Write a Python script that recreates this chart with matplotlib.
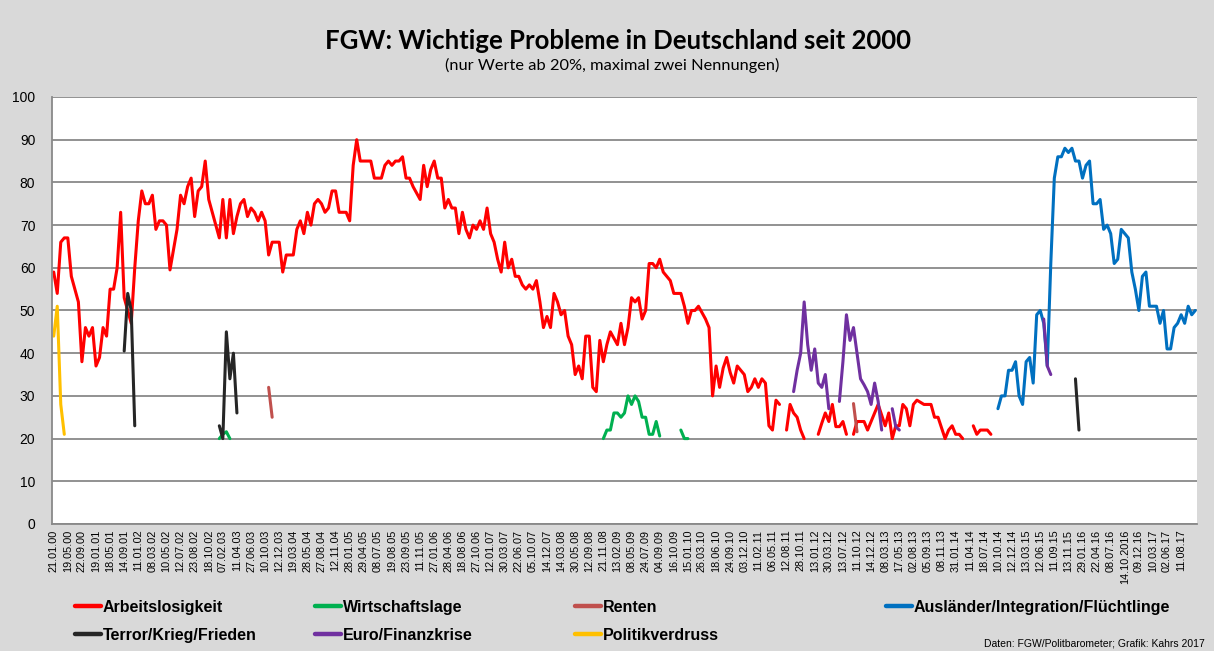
import numpy as np
import matplotlib.pyplot as plt
from matplotlib.lines import Line2D

# Politbarometer survey dates: every 4th survey is labelled on the axis
n_surveys = 325
date_labels = ['21.01.00', '19.05.00', '22.09.00', '19.01.01', '18.05.01', '14.09.01', '11.01.02',
               '08.03.02', '10.05.02', '12.07.02', '23.08.02', '18.10.02', '07.02.03', '11.04.03',
               '27.06.03', '10.10.03', '12.12.03', '19.03.04', '28.05.04', '27.08.04', '12.11.04',
               '28.01.05', '29.04.05', '08.07.05', '19.08.05', '23.09.05', '11.11.05', '27.01.06',
               '28.04.06', '18.08.06', '27.10.06', '12.01.07', '30.03.07', '22.06.07', '05.10.07',
               '14.12.07', '14.03.08', '30.05.08', '12.09.08', '21.11.08', '13.02.09', '08.05.09',
               '24.07.09', '04.09.09', '16.10.09', '15.01.10', '26.03.10', '18.06.10', '24.09.10',
               '03.12.10', '11.02.11', '06.05.11', '12.08.11', '28.10.11', '13.01.12', '30.03.12',
               '13.07.12', '11.10.12', '14.12.12', '08.03.13', '17.05.13', '02.08.13', '05.09.13',
               '08.11.13', '31.01.14', '11.04.14', '18.07.14', '10.10.14', '12.12.14', '13.03.15',
               '12.06.15', '11.09.15', '13.11.15', '29.01.16', '22.04.16', '08.07.16', '14.10.2016',
               '09.12.16', '10.03.17', '02.06.17', '11.08.17']

nan = np.nan

# survey index / share in percent (nan = below 20 %, line interrupted)
arbeit_idx = [0, 1, 2, 3, 4, 5, 6, 7, 8, 9, 10, 11, 12, 13, 14, 15, 16, 17, 18, 19, 20, 21, 22, 23,
              24, 25, 26, 27, 28, 29, 30, 31, 32, 33, 35, 36, 37, 38, 39, 40, 41, 42, 43, 44, 46, 47,
              48, 49, 50, 51, 52, 53, 54, 55, 56, 57, 58, 59, 60, 61, 62, 64, 65, 66, 68, 69, 70, 71,
              72, 73, 74, 75, 76, 77, 78, 79, 80, 81, 83, 84, 85, 86, 87, 90, 91, 93, 94, 95, 96, 97,
              98, 99, 100, 101, 102, 103, 104, 105, 106, 107, 108, 109, 110, 111, 112, 113, 114, 115,
              116, 117, 118, 119, 120, 121, 122, 123, 124, 125, 126, 127, 128, 129, 130, 131, 132,
              133, 134, 135, 136, 137, 138, 139, 140, 141, 142, 143, 144, 145, 146, 147, 148, 149,
              150, 151, 152, 153, 154, 155, 156, 157, 158, 159, 160, 161, 162, 163, 164, 165, 166,
              167, 168, 169, 170, 171, 172, 173, 174, 175, 176, 178, 179, 180, 181, 182, 183, 184,
              185, 186, 187, 188, 189, 190, 191, 192, 193, 194, 195, 196, 197, 198, 199, 200, 201,
              202, 203, 204, 205, 206, 207, 208, 209, 210, 211, 212, 213, 214, 217, 218, 219, 220,
              221, 222, 223, 224, 225, 226, 227, 228, 230, 231, 233, 234, 236, 237, 238, 239, 240,
              241, 242, 243, 244, 245, 247, 249, 250, 251, 253, 254, 255, 256, 257, 258, 259, 261,
              262, 263, 265, 266]
arbeit_val = [59, 54, 66, 67, 67, 58, 55, 52, 38, 46, 44, 46, 37, 39, 46, 44, 55, 55, 60, 73, 53, 50,
              47, 60, 71, 78, 75, 75, 77, 69, 71, 71, 70, 59.5, 69, 77, 75, 79, 81, 72, 78, 79, 85, 76,
              70, 67, 76, 67, 76, 68, 72, 75, 76, 72, 74, 73, 71, 73, 71, 63, 66, 66, 59, 63, 63, 69,
              71, 68, 73, 70, 75, 76, 75, 73, 74, 78, 78, 73, 73, 71, 84, 90, 85, 85, 81, 81, 84, 85,
              84, 85, 85, 86, 81, 81, 79, 77.5, 76, 84, 79, 83, 85, 81, 81, 74, 76, 74, 74, 68, 73,
              69, 67, 70, 69, 71, 69, 74, 68, 66, 62, 59, 66, 60, 62, 58, 58, 56, 55, 56, 55, 57, 52,
              46, 48.6, 46, 54, 52, 49, 50, 44, 42, 35, 37, 34, 44, 44, 32, 31, 43, 38, 42, 45, 43.5,
              42, 47, 42, 46, 53, 52, 53, 48, 50, 61, 61, 60, 62, 59, 58, 57, 54, 54, 51, 47, 50, 50,
              51, 49.5, 48, 46, 30, 37, 32, 36.5, 39, 35.5, 33, 37, 36, 35, 31, 32, 34, 32, 34, 33, 23,
              22, 29, 28, nan, 22, 28, 26, 25, 22, 20, nan, 21, 23.6, 26, 24, 28, 22.8, 22.8, 24, 21,
              nan, 21, 24, 24, 22, 26, 28, 23, 26, 20, 23, 23, 28, 27, 23, 28, 29, 28, 28, 25, 25, 20,
              22, 23, 21, 21, 20, nan, 23, 21, 22, 22, 21]

wirtschaft_idx = [47, 48, 49, 50, 51, 156, 157, 158, 159, 160, 161, 162, 163, 164, 165, 166, 167,
                  168, 169, 170, 171, 172, 173, 178, 179, 180]
wirtschaft_val = [20, 21, 21.6, 20, nan, 20, 22, 22, 26, 26, 25, 26, 30, 28, 30, 28.7, 25, 25, 21,
                  21, 24, 20.6, nan, 22, 20, 20]

renten_idx = [61, 62, 63, 227, 228]
renten_val = [32, 25, nan, 28.2, 21.6]

auslaender_idx = [268, 269, 270, 271, 272, 273, 274, 275, 276, 277, 278, 279, 280, 281, 282, 283,
                  284, 285, 286, 287, 288, 289, 290, 291, 292, 293, 294, 295, 296, 297, 298, 299,
                  300, 301, 302, 303, 304, 305, 306, 307, 308, 309, 310, 311, 313, 314, 315, 316,
                  317, 318, 319, 320, 321, 322, 323, 324]
auslaender_val = [27, 30, 30, 36, 36, 38, 30, 28, 38, 39, 33, 49, 50, 47, 37, 61, 81, 86, 86, 88,
                  87, 88, 85, 85, 81, 84, 85, 75, 75, 76, 69, 70, 68, 61, 62, 69, 68, 67, 59, 55,
                  50, 58, 59, 51, 51, 47, 50, 41, 41, 46, 47, 49, 47, 51, 49, 50]

terror_idx = [20, 21, 22, 23, 24, 47, 48, 49, 50, 51, 52, 53, 290, 291]
terror_val = [40.5, 54, 50, 23, nan, 23, 20, 45, 34, 40, 26, nan, 34, 22]

euro_idx = [210, 211, 212, 213, 214, 215, 216, 217, 218, 219, 220, 221, 223, 224, 225, 226, 227,
            228, 229, 230, 231, 232, 233, 234, 235, 236, 238, 239, 240, 241, 281, 282, 283]
euro_val = [31, 36, 40, 52, 42, 36, 41, 33, 32, 35, 27, nan, 28.7, 38, 49, 43, 46, 40, 34, 32.6,
            31, 28, 33, 28.7, 22, nan, 27, 22.8, 22, nan, 48, 37, 35]

politik_idx = [0, 1, 2, 3]
politik_val = [44, 51, 28, 21]

series = [
    ('Arbeitslosigkeit', arbeit_idx, arbeit_val, '#FF0000'),
    ('Wirtschaftslage', wirtschaft_idx, wirtschaft_val, '#00B050'),
    ('Renten', renten_idx, renten_val, '#C0504D'),
    ('Ausländer/Integration/Flüchtlinge', auslaender_idx, auslaender_val, '#0070C0'),
    ('Terror/Krieg/Frieden', terror_idx, terror_val, '#262626'),
    ('Euro/Finanzkrise', euro_idx, euro_val, '#7030A0'),
    ('Politikverdruss', politik_idx, politik_val, '#FFC000'),
]

plt.rcParams['font.family'] = ['Liberation Sans', 'DejaVu Sans']
fig = plt.figure(figsize=(12.14, 6.51), dpi=100)
fig.patch.set_facecolor('#D9D9D9')
ax = fig.add_axes([0.0428, 0.1951, 0.9432, 0.6559])
ax.set_facecolor('white')

for name, idx, val, color in series:
    ax.plot(idx, val, color=color, linewidth=2.2, solid_joinstyle='round', solid_capstyle='round')

ax.set_xlim(-0.5, n_surveys - 0.5)
ax.set_ylim(0, 100)
ax.set_yticks(range(0, 101, 10))
ax.set_xticks(range(0, 4 * len(date_labels), 4))
ax.set_xticklabels(date_labels, rotation=90, fontsize=7.8)
ax.tick_params(axis='y', length=0, pad=12, labelsize=10)
ax.tick_params(axis='x', length=0, pad=4)
ax.grid(axis='y', color='#898989', linewidth=1.3)
ax.set_axisbelow(True)
for side in ['top', 'right']:
    ax.spines[side].set_visible(False)
for side in ['left', 'bottom']:
    ax.spines[side].set_color('#898989')
    ax.spines[side].set_linewidth(1.3)

fig.text(0.509, 0.937, 'FGW: Wichtige Probleme in Deutschland seit 2000', ha='center', va='center',
         fontsize=18.5, fontweight='bold', family=['Lato', 'DejaVu Sans'])
fig.text(0.504, 0.899, '(nur Werte ab 20%, maximal zwei Nennungen)', ha='center', va='center',
         fontsize=11.8, family=['Lato', 'DejaVu Sans'])

# legend, two rows in Excel order
legend_x = [75, 315, 575, 886, 75, 315, 575]
legend_y = [606, 606, 606, 606, 634, 634, 634]
W, H = 1214, 651
for k, (name, idx, val, color) in enumerate(series):
    x0 = legend_x[k] / W
    y0 = 1 - legend_y[k] / H
    fig.add_artist(Line2D([x0, x0 + 26 / W], [y0, y0], color=color, linewidth=3.2,
                          solid_capstyle='round', transform=fig.transFigure))
    fig.text(x0 + 28 / W, y0, name, ha='left', va='center_baseline', fontsize=11.5,
             fontweight='bold', family=['Liberation Sans Narrow', 'Liberation Sans', 'DejaVu Sans'])

fig.text(1205 / W, 1 - 643 / H, 'Daten: FGW/Politbarometer; Grafik: Kahrs 2017', ha='right',
         va='center', fontsize=7.5, family=['Liberation Sans Narrow', 'Liberation Sans', 'DejaVu Sans'])

plt.savefig('out.png', dpi=100, facecolor=fig.get_facecolor())
